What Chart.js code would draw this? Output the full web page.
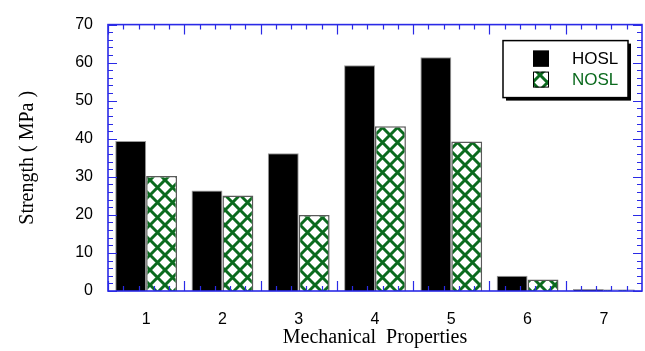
<!DOCTYPE html>
<html>
<head>
<meta charset="utf-8">
<script src="https://cdn.jsdelivr.net/npm/chart.js@4"></script>
<style>
  html, body { margin: 0; padding: 0; background: #fff; }
  #wrap { width: 645px; height: 351px; }
</style>
</head>
<body>
<div id="wrap"><canvas id="chart" width="645" height="351"></canvas></div>
<script>
const categories = ['1', '2', '3', '4', '5', '6', '7']
const hosl = [39.4, 26.4, 36.2, 59.3, 61.4, 4.0, 0.5]
const nosl = [30.2, 25.1, 20.0, 43.3, 39.3, 3.0, 0.4]
const yTicks = [0, 10, 20, 30, 40, 50, 60, 70]

const axisBlue = '#2a2ae6'
const green = '#0b6a1e'

// cross-hatch fill for the NOSL bars
function makeHatch() {
  const c = document.createElement('canvas')
  c.width = 15
  c.height = 15
  const g = c.getContext('2d')
  g.fillStyle = '#fff'
  g.fillRect(0, 0, 15, 15)
  g.strokeStyle = green
  g.lineWidth = 3
  for (let k = -1; k <= 1; k++) {
    g.beginPath()
    g.moveTo(k * 15, 0)
    g.lineTo(k * 15 + 15, 15)
    g.moveTo(k * 15 + 15, 0)
    g.lineTo(k * 15, 15)
    g.stroke()
  }
  return g.createPattern(c, 'repeat')
}
const hatch = makeHatch()

// blue frame with inward ticks on all four sides
const framePlugin = {
  id: 'frame',
  afterDatasetsDraw(chart) {
    const { ctx, chartArea: a, scales } = chart
    const x = scales.x, y = scales.y
    ctx.save()
    ctx.strokeStyle = axisBlue
    ctx.lineWidth = 1.2
    ctx.beginPath()
    for (let v = 0; v <= 70; v += 2) {
      const py = Math.round(y.getPixelForValue(v)) + 0.5
      const len = v % 10 === 0 ? 9 : 5
      ctx.moveTo(a.left, py); ctx.lineTo(a.left + len, py)
      ctx.moveTo(a.right, py); ctx.lineTo(a.right - len, py)
    }
    const step = x.getPixelForValue(1) - x.getPixelForValue(0)
    for (let i = 0; i < categories.length; i++) {
      const start = x.getPixelForValue(i) - step / 2
      for (let j = 0; j < 5; j++) {
        const px = Math.round(start + j * step / 5) + 0.5
        const len = j === 0 ? 10 : 5
        ctx.moveTo(px, a.bottom); ctx.lineTo(px, a.bottom - len)
        ctx.moveTo(px, a.top); ctx.lineTo(px, a.top + len)
      }
    }
    ctx.stroke()
    ctx.lineWidth = 1.6
    ctx.strokeRect(a.left, a.top, a.right - a.left, a.bottom - a.top)
    ctx.restore()
  }
}

// boxed legend with drop shadow, top right
const legendPlugin = {
  id: 'boxLegend',
  afterDraw(chart) {
    const { ctx, chartArea: a } = chart
    const bx = a.right - 139, by = a.top + 16, bw = 125, bh = 57
    ctx.save()
    ctx.fillStyle = '#000'
    ctx.fillRect(bx + 3, by + 3, bw, bh)
    ctx.fillStyle = '#fff'
    ctx.fillRect(bx, by, bw, bh)
    ctx.strokeStyle = '#000'
    ctx.lineWidth = 1.5
    ctx.strokeRect(bx, by, bw, bh)
    ctx.font = '17px "Liberation Sans", Arial, sans-serif'
    ctx.textBaseline = 'middle'
    chart.data.datasets.forEach((ds, i) => {
      const sy = by + 10 + i * 21
      ctx.fillStyle = ds.backgroundColor
      ctx.fillRect(bx + 30, sy, 16, 16)
      ctx.lineWidth = 1
      ctx.strokeStyle = '#000'
      ctx.strokeRect(bx + 30.5, sy + 0.5, 15, 15)
      ctx.fillStyle = i === 0 ? '#000' : green
      ctx.fillText(ds.label, bx + 69, sy + 9)
    })
    ctx.restore()
  }
}

new Chart(document.getElementById('chart'), {
  type: 'bar',
  data: {
    labels: categories,
    datasets: [
      {
        label: 'HOSL',
        data: hosl,
        backgroundColor: '#000',
        borderColor: '#9a9a9a',
        borderWidth: 1,
        borderSkipped: 'bottom'
      },
      {
        label: 'NOSL',
        data: nosl,
        backgroundColor: hatch,
        borderColor: '#5a5a5a',
        borderWidth: 1.5,
        borderSkipped: 'bottom'
      }
    ]
  },
  options: {
    responsive: false,
    animation: false,
    datasets: { bar: { categoryPercentage: 0.81, barPercentage: 1.0 } },
    layout: { padding: { top: 12, right: 3, left: 0, bottom: 0 } },
    plugins: { legend: { display: false }, tooltip: { enabled: false } },
    scales: {
      x: {
        grid: { display: false, drawTicks: false },
        border: { display: false },
        ticks: {
          color: '#000',
          padding: 19,
          font: { family: '"Liberation Sans", Arial, sans-serif', size: 16 }
        },
        title: {
          display: true,
          text: 'Mechanical  Properties',
          color: '#000',
          padding: { top: 0, bottom: 1 },
          font: { family: '"Liberation Serif", "Times New Roman", serif', size: 20 }
        },
        afterFit: (s) => { s.height = 60 }
      },
      y: {
        min: 0,
        max: 70,
        afterBuildTicks: (s) => { s.ticks = yTicks.map(v => ({ value: v })) },
        grid: { display: false, drawTicks: false },
        border: { display: false },
        ticks: {
          color: '#000',
          padding: 15,
          font: { family: '"Liberation Sans", Arial, sans-serif', size: 16 }
        },
        title: {
          display: true,
          text: 'Strength ( MPa )',
          color: '#000',
          padding: { top: 16, bottom: 0 },
          font: { family: '"Liberation Serif", "Times New Roman", serif', size: 20 }
        },
        afterFit: (s) => { s.width = 108 }
      }
    }
  },
  plugins: [framePlugin, legendPlugin]
})
</script>
</body>
</html>
